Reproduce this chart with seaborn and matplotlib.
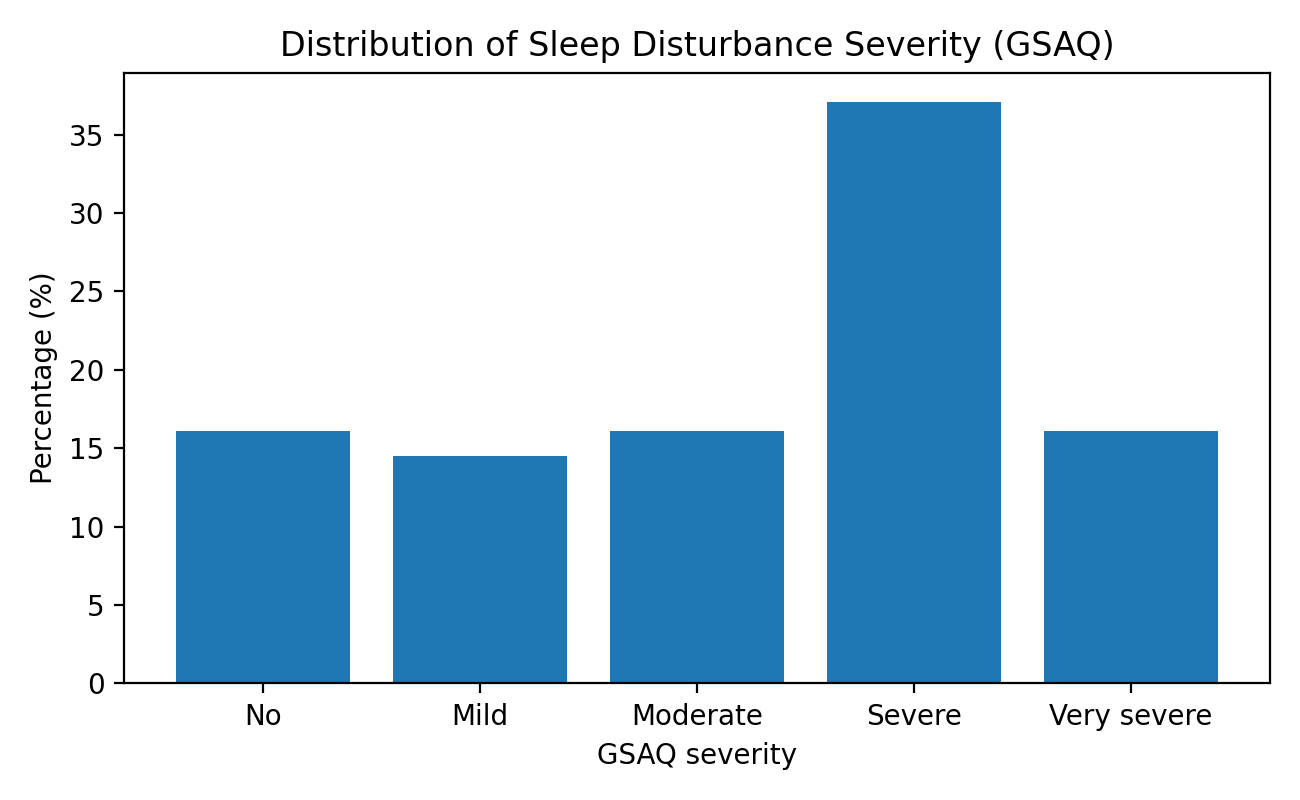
import pandas as pd
import seaborn as sns
import matplotlib
matplotlib.use("Agg")
import matplotlib.pyplot as plt

# categorias e percentuais (n = 62)
categorias = ["No", "Mild", "Moderate", "Severe", "Very severe"]
percentuais = [10 / 62 * 100, 9 / 62 * 100, 10 / 62 * 100, 23 / 62 * 100, 10 / 62 * 100]

df = pd.DataFrame({"severity": categorias, "pct": percentuais})

plt.rcParams["font.family"] = ["DejaVu Sans"]
fig, ax = plt.subplots(figsize=(6.5, 4), dpi=200)

sns.barplot(x="severity", y="pct", data=df, color="#1f77b4", saturation=1, width=0.8, ax=ax)

ax.set_xlabel("GSAQ severity")
ax.set_ylabel("Percentage (%)")
ax.set_title("Distribution of Sleep Disturbance Severity (GSAQ)")
ax.set_xlim(-0.64, 4.64)

plt.tight_layout()
plt.savefig("out.png", dpi=200)
